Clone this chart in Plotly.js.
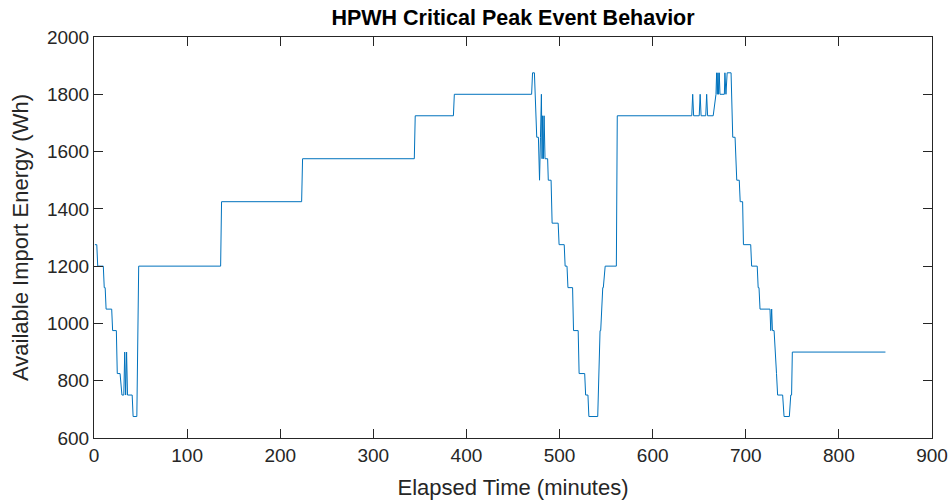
<!DOCTYPE html>
<html>
<head>
<meta charset="utf-8">
<script src="https://cdn.plot.ly/plotly-3.0.1.min.js"></script>
<style>html,body{margin:0;padding:0;background:#fff;}#chart{width:949px;height:504px;}</style>
</head>
<body>
<div id="chart"></div>
<script>
// Elapsed time (minutes) at each vertex of the stepped trace
const timeMinutes = [
  1, 3, 4, 10, 11, 12, 13, 19, 20, 24, 25, 28, 30, 32, 33, 34, 35, 36, 41, 42, 46, 48,
  136, 137, 223, 224, 344, 345, 386, 387, 470, 471, 473, 475.5, 477.3, 478.5, 479.5, 480.5, 481.2, 481.8, 482.6, 483.4, 484.4, 487.2, 487.9, 490.9, 492, 498.5, 499.5,
  505, 506, 508, 509, 514, 515, 520, 521, 527, 528, 530.5, 531.5, 541, 543.5, 544.2, 546.4, 547, 549, 561, 562,
  642, 643, 644, 650, 651, 652, 657, 658, 659, 665, 668, 668.7, 669.4, 670.1, 670.8, 671.5, 672.3, 677, 677.6, 678.7, 680, 684.2, 686, 688.5, 690.3, 693, 694, 696.6, 697.5,
  705.3, 706.3, 712.3, 713.3, 714.2, 715.3, 726, 726.8, 727.8, 728.6, 730.4, 732.2, 733, 734.2, 739.6, 741.1, 746.8, 748.3, 749.2, 750, 850
];
// Available import energy (Wh) at each vertex
const energyWh = [
  1275, 1275, 1200, 1200, 1125, 1125, 1050, 1050, 975, 975, 825, 825, 750, 750, 900, 750, 900, 750, 750, 675, 675, 1200,
  1200, 1425, 1425, 1575, 1575, 1725, 1725, 1800, 1800, 1875, 1875, 1650, 1650, 1500, 1650, 1800, 1575, 1725, 1575, 1725, 1575, 1575, 1500, 1500, 1350, 1350, 1275,
  1275, 1200, 1200, 1125, 1125, 975, 975, 825, 825, 750, 750, 675, 675, 975, 975, 1125, 1125, 1200, 1200, 1725,
  1725, 1800, 1725, 1725, 1800, 1725, 1725, 1800, 1725, 1725, 1800, 1875, 1800, 1875, 1800, 1875, 1800, 1800, 1875, 1800, 1875, 1875, 1650, 1650, 1500, 1500, 1425, 1425, 1275,
  1275, 1200, 1200, 1125, 1125, 1050, 1050, 975, 1050, 975, 975, 825, 825, 750, 750, 675, 675, 750, 750, 900, 900
];
const xTicks = [0, 100, 200, 300, 400, 500, 600, 700, 800, 900];
const yTicks = [600, 800, 1000, 1200, 1400, 1600, 1800, 2000];

const axisColor = '#262626';
const trace = {
  x: timeMinutes,
  y: energyWh,
  type: 'scatter',
  mode: 'lines',
  line: {color: '#0072BD', width: 1},
  hoverinfo: 'x+y'
};
const layout = {
  width: 949,
  height: 504,
  margin: {l: 94, r: 17, t: 37, b: 66},
  paper_bgcolor: '#ffffff',
  plot_bgcolor: '#ffffff',
  showlegend: false,
  font: {family: 'Liberation Sans, Arial, sans-serif', color: axisColor},
  title: {
    text: '<b>HPWH Critical Peak Event Behavior</b>',
    font: {size: 21.5, color: '#000000', family: 'Liberation Sans, Arial, sans-serif'},
    x: 0.5 * (94 + 932) / 949,
    xanchor: 'center',
    y: 1 - 17 / 504,
    yanchor: 'middle'
  },
  xaxis: {
    range: [0, 900],
    tickvals: xTicks,
    ticktext: xTicks.map(String),
    ticks: 'inside',
    ticklen: 9,
    tickcolor: axisColor,
    tickwidth: 1,
    showline: true,
    linecolor: axisColor,
    linewidth: 1,
    mirror: 'ticks',
    showgrid: false,
    zeroline: false,
    tickfont: {size: 19, color: axisColor},
    title: {text: 'Elapsed Time (minutes)', font: {size: 22, color: axisColor}, standoff: 14}
  },
  yaxis: {
    range: [600, 2000],
    tickvals: yTicks,
    ticktext: yTicks.map(String),
    ticks: 'inside',
    ticklen: 9,
    tickcolor: axisColor,
    tickwidth: 1,
    showline: true,
    linecolor: axisColor,
    linewidth: 1,
    mirror: 'ticks',
    showgrid: false,
    zeroline: false,
    tickfont: {size: 19, color: axisColor},
    title: {text: 'Available Import Energy (Wh)', font: {size: 22, color: axisColor}, standoff: 12}
  }
};
Plotly.newPlot('chart', [trace], layout, {displayModeBar: false, staticPlot: true});
</script>
</body>
</html>
